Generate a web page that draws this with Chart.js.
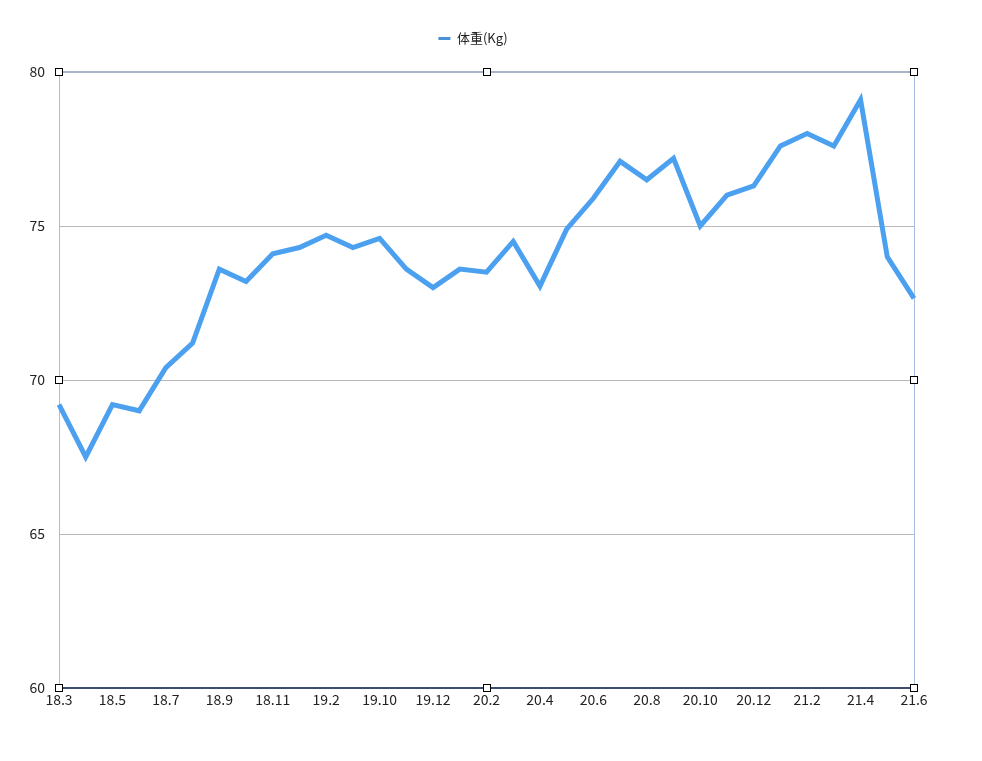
<!DOCTYPE html>
<html>
<head>
<meta charset="utf-8">
<script src="https://cdn.jsdelivr.net/npm/chart.js@4"></script>
<style>
  html, body { margin: 0; padding: 0; background: #fff; }
  #wrap { width: 982px; height: 761px; }
</style>
</head>
<body>
<div id="wrap"><canvas id="weightChart" width="982" height="761"></canvas></div>
<script>
const meses = ['18.3','18.4','18.5','18.6','18.7','18.8','18.9','18.10','18.11','18.12',
  '19.2','19.6','19.10','19.11','19.12','20.1','20.2','20.3','20.4','20.5','20.6','20.7',
  '20.8','20.9','20.10','20.11','20.12','21.1','21.2','21.3','21.4','21.5','21.6'];
const pesos = [69.2, 67.5, 69.2, 69.0, 70.4, 71.2, 73.6, 73.2, 74.1, 74.3,
  74.7, 74.3, 74.6, 73.6, 73.0, 73.6, 73.5, 74.5, 73.05, 74.9, 75.9, 77.1,
  76.5, 77.2, 75.0, 76.0, 76.3, 77.6, 78.0, 77.6, 79.1, 74.0, 72.65];
const yMin = 60, yMax = 80, yPasso = 5;

const fonte = '"Noto Sans CJK JP", "Noto Sans", sans-serif';

// mais espaço entre a legenda e a área do gráfico; legenda centrada na página
const espacoLegenda = {
  id: 'espacoLegenda',
  beforeInit(chart) {
    const fitOrig = chart.legend.fit;
    chart.legend.fit = function () {
      fitOrig.call(this);
      this.height += 17;
    };
  },
  afterLayout(chart) {
    chart.legend.left += 16;
    chart.legend.right += 16;
  }
};

// bordas laterais + alças de seleção (estilo Numbers)
const molduraPlugin = {
  id: 'moldura',
  beforeDatasetsDraw(chart) {
    const { ctx, chartArea: a } = chart;
    ctx.save();
    ctx.strokeStyle = '#a9bfe0';
    ctx.lineWidth = 1;
    ctx.beginPath();
    ctx.moveTo(Math.round(a.right) + 0.5, a.top);
    ctx.lineTo(Math.round(a.right) + 0.5, a.bottom);
    ctx.stroke();
    ctx.restore();
  },
  afterDraw(chart) {
    const { ctx, chartArea: a } = chart;
    const mx = (a.left + a.right) / 2, my = (a.top + a.bottom) / 2;
    const pts = [[a.left, a.top], [mx, a.top], [a.right, a.top], [a.left, my], [a.right, my],
      [a.left, a.bottom], [mx, a.bottom], [a.right, a.bottom]];
    ctx.save();
    ctx.fillStyle = '#fff';
    ctx.strokeStyle = '#000';
    ctx.lineWidth = 1;
    pts.forEach(([x, y]) => {
      const px = Math.round(x) - 3.5, py = Math.round(y) - 3.5;
      ctx.fillRect(px, py, 7, 7);
      ctx.strokeRect(px, py, 7, 7);
    });
    ctx.restore();
  }
};

new Chart(document.getElementById('weightChart'), {
  type: 'line',
  data: {
    labels: meses,
    datasets: [{
      label: '体重(Kg)',
      data: pesos,
      borderColor: '#4ca0f0',
      backgroundColor: '#4ca0f0',
      borderWidth: 5,
      pointRadius: 0,
      tension: 0,
      fill: false
    }]
  },
  options: {
    responsive: false,
    animation: false,
    layout: { padding: { top: 22, right: 68, bottom: 43, left: 0 } },
    plugins: {
      tooltip: { enabled: false },
      legend: {
        position: 'top',
        labels: {
          color: '#222',
          font: { family: fonte, size: 13 },
          usePointStyle: true,
          pointStyle: 'line',
          pointStyleWidth: 12,
          boxWidth: 12,
          padding: 10,
          generateLabels: chart => {
            const itens = Chart.defaults.plugins.legend.labels.generateLabels(chart);
            itens.forEach(it => { it.lineWidth = 3; it.strokeStyle = '#4a90d9'; });
            return itens;
          }
        }
      }
    },
    scales: {
      x: {
        afterFit: s => { s.height = 30; },
        grid: { display: false, drawTicks: false },
        border: { display: true, color: '#3c4d70', width: 2 },
        ticks: {
          autoSkip: false,
          maxRotation: 0,
          padding: 3,
          color: '#222',
          font: { family: fonte, size: 14 },
          callback: (v, i) => (i % 2 === 0 ? meses[i] : '')
        }
      },
      y: {
        min: yMin,
        max: yMax,
        afterFit: s => { s.width = 59; },
        border: { display: true, color: '#a9bfe0', width: 1 },
        grid: {
          drawTicks: false,
          color: c => (c.tick.value === yMax ? '#a9b4c8' : c.tick.value === yMin ? 'rgba(0,0,0,0)' : '#b8b8b8'),
          lineWidth: c => (c.tick.value === yMax ? 2 : 1)
        },
        ticks: {
          stepSize: yPasso,
          padding: 14,
          color: '#222',
          font: { family: fonte, size: 14 }
        }
      }
    }
  },
  plugins: [espacoLegenda, molduraPlugin]
});
</script>
</body>
</html>
